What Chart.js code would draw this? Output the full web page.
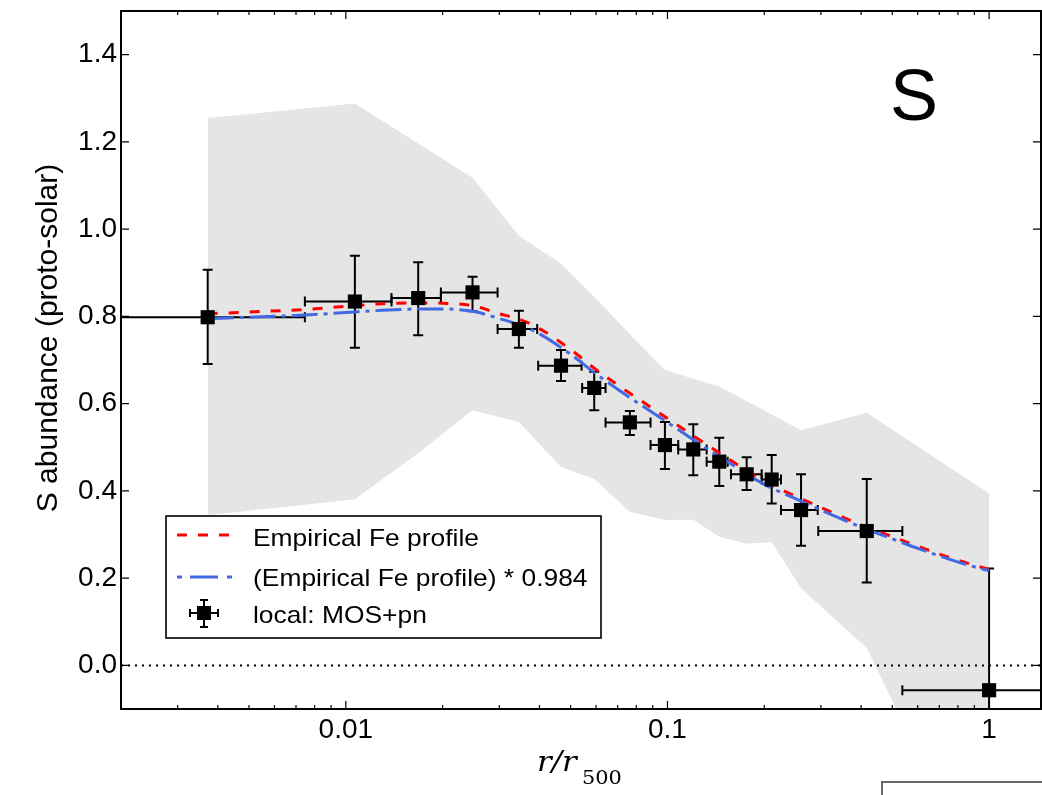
<!DOCTYPE html>
<html>
<head>
<meta charset="utf-8">
<script src="https://cdn.jsdelivr.net/npm/chart.js@4.4.0/dist/chart.umd.min.js"></script>
<style>
html,body{margin:0;padding:0;background:#fff;}
#wrap{width:1042px;height:795px;position:relative;}
</style>
</head>
<body>
<div id="wrap"><canvas id="abundChart"></canvas></div>
<script>
// measured points: local MOS+pn
const radius  = [0.00372, 0.01067, 0.01679, 0.02477, 0.03452, 0.04667, 0.0592, 0.0764, 0.0982, 0.1203, 0.1449, 0.1763, 0.2109, 0.2602, 0.4165, 1.0];
const radLo   = [0.001, 0.00746, 0.01387, 0.01975, 0.02964, 0.03963, 0.0543, 0.0642, 0.0886, 0.108, 0.1324, 0.1576, 0.1963, 0.2254, 0.2944, 0.5374];
const radHi   = [0.00746, 0.01387, 0.01975, 0.02964, 0.03935, 0.05408, 0.0642, 0.0886, 0.108, 0.1324, 0.1539, 0.1963, 0.2254, 0.2932, 0.5374, 2.0];
const sAbund  = [0.798, 0.834, 0.842, 0.855, 0.771, 0.687, 0.636, 0.557, 0.505, 0.495, 0.467, 0.438, 0.426, 0.356, 0.308, -0.057];
const sLo     = [0.691, 0.728, 0.757, 0.812, 0.728, 0.652, 0.585, 0.528, 0.450, 0.436, 0.411, 0.402, 0.371, 0.274, 0.190, -0.34];
const sHi     = [0.907, 0.939, 0.924, 0.891, 0.813, 0.723, 0.673, 0.583, 0.558, 0.553, 0.522, 0.477, 0.482, 0.438, 0.427, 0.222];

// grey scatter band (same radii as the points)
const bandUpper = [1.255, 1.288, 1.196, 1.118, 0.985, 0.921, 0.845, 0.759, 0.677, 0.657, 0.639, 0.606, 0.575, 0.539, 0.579, 0.394];
const bandLower = [0.344, 0.381, 0.486, 0.585, 0.558, 0.455, 0.427, 0.352, 0.333, 0.334, 0.295, 0.279, 0.283, 0.176, 0.040, -0.54];

// empirical Fe profile curves
const modelR  = [0.00372, 0.005, 0.0075, 0.01, 0.013, 0.017, 0.02, 0.025, 0.03, 0.035, 0.04, 0.05, 0.06, 0.07, 0.08, 0.1, 0.12, 0.15, 0.2, 0.25, 0.3, 0.4, 0.5, 0.6, 0.7, 0.85, 1.0];
const feEmp   = [0.806, 0.810, 0.816, 0.823, 0.829, 0.831, 0.830, 0.824, 0.806, 0.792, 0.772, 0.724, 0.678, 0.643, 0.614, 0.566, 0.527, 0.480, 0.422, 0.388, 0.362, 0.322, 0.295, 0.273, 0.255, 0.235, 0.220];
const feScaled= [0.795, 0.798, 0.803, 0.809, 0.814, 0.817, 0.817, 0.811, 0.795, 0.779, 0.760, 0.713, 0.668, 0.633, 0.604, 0.557, 0.518, 0.472, 0.415, 0.382, 0.356, 0.317, 0.290, 0.268, 0.251, 0.231, 0.217];

const xTickValues = [0.01, 0.1, 1];
const xTickLabels = ['0.01', '0.1', '1'];
const yTickValues = [0, 0.2, 0.4, 0.6, 0.8, 1.0, 1.2, 1.4];
const yTickLabels = ['0.0', '0.2', '0.4', '0.6', '0.8', '1.0', '1.2', '1.4'];
const legendLabels = ['Empirical Fe profile', '(Empirical Fe profile) * 0.984', 'local: MOS+pn'];

const X_MIN = 0.002, X_MAX = 1.45, Y_MIN = -0.1, Y_MAX = 1.5;
const RED = '#ff0000', BLUE = '#4169e1', BAND = '#e5e5e5';
const RED_DASH = [10, 11], BLUE_DASH = [26, 6, 4, 6];
const SX = 1.1; // the original figure text is a bit wide
const SANS = '"Liberation Sans", Arial, sans-serif';

const pts = (xs, ys) => xs.map((x, i) => ({x: x, y: ys[i]}));

function wideText(ctx, txt, x, y, font, align){
  ctx.save();
  ctx.font = font;
  ctx.textAlign = align || 'left';
  ctx.textBaseline = 'alphabetic';
  ctx.fillStyle = '#000';
  ctx.translate(x, y);
  ctx.scale(SX, 1);
  ctx.fillText(txt, 0, 0);
  ctx.restore();
}

function errCross(ctx, px, py, pxl, pxh, pyl, pyh, cap){
  ctx.beginPath();
  ctx.moveTo(px, pyl); ctx.lineTo(px, pyh);
  ctx.moveTo(px - cap, pyl); ctx.lineTo(px + cap, pyl);
  ctx.moveTo(px - cap, pyh); ctx.lineTo(px + cap, pyh);
  ctx.moveTo(pxl, py); ctx.lineTo(pxh, py);
  ctx.moveTo(pxl, py - cap); ctx.lineTo(pxl, py + cap);
  ctx.moveTo(pxh, py - cap); ctx.lineTo(pxh, py + cap);
  ctx.stroke();
}

const RED_INDEX = 3;

const errorBarPlugin = {
  id: 'errorBars',
  beforeDatasetDraw(chart, args){
    if (args.index !== RED_INDEX) return;
    const {ctx, chartArea: ca} = chart;
    const xs = chart.scales.x, ys = chart.scales.y;
    ctx.save();
    ctx.beginPath();
    ctx.rect(ca.left, ca.top, ca.right - ca.left, ca.bottom - ca.top);
    ctx.clip();
    ctx.strokeStyle = '#000';
    ctx.lineWidth = 2;
    radius.forEach((r, i) => {
      errCross(ctx,
        xs.getPixelForValue(r), ys.getPixelForValue(sAbund[i]),
        xs.getPixelForValue(radLo[i]), xs.getPixelForValue(radHi[i]),
        ys.getPixelForValue(sLo[i]), ys.getPixelForValue(sHi[i]), 5);
    });
    ctx.restore();
  }
};

const decorPlugin = {
  id: 'decor',
  afterDatasetsDraw(chart){
    const ctx = chart.ctx;
    // legend box
    ctx.save();
    ctx.fillStyle = '#fff';
    ctx.fillRect(166, 516, 435, 122);
    ctx.strokeStyle = '#000';
    ctx.lineWidth = 1.6;
    ctx.strokeRect(166, 516, 435, 122);
    ctx.lineWidth = 3;
    ctx.strokeStyle = RED;
    ctx.setLineDash(RED_DASH);
    ctx.beginPath(); ctx.moveTo(177, 535); ctx.lineTo(232, 535); ctx.stroke();
    ctx.strokeStyle = BLUE;
    ctx.setLineDash([5, 8, 28, 9, 5, 100]);
    ctx.beginPath(); ctx.moveTo(177, 577); ctx.lineTo(232, 577); ctx.stroke();
    ctx.setLineDash([]);
    ctx.strokeStyle = '#000';
    ctx.lineWidth = 2;
    errCross(ctx, 204, 613, 190, 218, 600, 627, 4);
    ctx.fillStyle = '#000';
    ctx.fillRect(197, 606, 14, 14);
    ctx.restore();
    wideText(ctx, legendLabels[0], 253, 546, '24px ' + SANS);
    wideText(ctx, legendLabels[1], 253, 586, '24px ' + SANS);
    wideText(ctx, legendLabels[2], 253, 623, '24px ' + SANS);

    // panel label
    ctx.save();
    ctx.font = '72px ' + SANS;
    ctx.fillStyle = '#000';
    ctx.textAlign = 'center';
    ctx.fillText('S', 914, 120);
    ctx.restore();
  },
  afterDraw(chart){
    const {ctx, chartArea: ca} = chart;
    const xs = chart.scales.x, ys = chart.scales.y;
    ctx.save();
    ctx.strokeStyle = '#000';
    ctx.lineWidth = 1.2;
    ctx.beginPath();
    // x ticks, bottom and top, pointing inward
    for (let d = 0.001; d < 10; d *= 10) {
      for (let k = 1; k <= 9; k++) {
        const v = k * d;
        if (v < X_MIN || v > X_MAX) continue;
        const px = xs.getPixelForValue(v);
        const len = (k === 1) ? 8 : 4;
        ctx.moveTo(px, ca.bottom); ctx.lineTo(px, ca.bottom - len);
        ctx.moveTo(px, ca.top); ctx.lineTo(px, ca.top + len);
      }
    }
    yTickValues.forEach(v => {
      const py = ys.getPixelForValue(v);
      ctx.moveTo(ca.left, py); ctx.lineTo(ca.left + 8, py);
      ctx.moveTo(ca.right, py); ctx.lineTo(ca.right - 8, py);
    });
    ctx.stroke();
    ctx.lineWidth = 2;
    ctx.strokeRect(ca.left, ca.top, ca.right - ca.left, ca.bottom - ca.top);

    // box of the neighbouring panel, cut by the crop
    ctx.strokeStyle = '#666';
    ctx.lineWidth = 2;
    ctx.strokeRect(882, 782, 200, 60);
    ctx.restore();

    // axis titles
    ctx.save();
    ctx.fillStyle = '#000';
    ctx.translate(49, 338);
    ctx.rotate(-Math.PI / 2);
    ctx.font = '30px ' + SANS;
    ctx.textAlign = 'center';
    ctx.textBaseline = 'middle';
    ctx.fillText('S abundance (proto-solar)', 0, 0);
    ctx.restore();
    wideText(ctx, 'r/r', 537, 771, 'italic 28px "DejaVu Serif", serif');
    wideText(ctx, '500', 582, 784, '19px "DejaVu Serif", serif');
  }
};

Chart.defaults.font.family = SANS;
Chart.defaults.color = '#000';

new Chart(document.getElementById('abundChart'), {
  type: 'scatter',
  data: {
    datasets: [
      { // 0: points
        label: legendLabels[2],
        data: pts(radius, sAbund),
        pointStyle: 'rect', pointRadius: 10, pointBackgroundColor: '#000',
        pointBorderWidth: 0, showLine: false, order: 0
      },
      { // 1: band upper edge
        data: pts(radius, bandUpper),
        showLine: true, borderWidth: 0, pointRadius: 0, fill: false, order: 10
      },
      { // 2: band lower edge, filled up to the upper edge
        data: pts(radius, bandLower),
        showLine: true, borderWidth: 0, pointRadius: 0,
        fill: '-1', backgroundColor: BAND, order: 9
      },
      { // 3: empirical Fe profile
        label: legendLabels[0],
        data: pts(modelR, feEmp),
        showLine: true, borderColor: RED, borderWidth: 3, borderDash: RED_DASH,
        pointRadius: 0, cubicInterpolationMode: 'monotone', order: 2
      },
      { // 4: scaled profile
        label: legendLabels[1],
        data: pts(modelR, feScaled),
        showLine: true, borderColor: BLUE, borderWidth: 3, borderDash: BLUE_DASH,
        pointRadius: 0, cubicInterpolationMode: 'monotone', order: 1
      },
      { // 5: zero line
        data: pts([X_MIN, X_MAX], [0, 0]),
        showLine: true, borderColor: '#000', borderWidth: 2, borderDash: [2, 5],
        pointRadius: 0, order: 5
      }
    ]
  },
  options: {
    responsive: true,
    maintainAspectRatio: false,
    animation: false,
    layout: { autoPadding: false, padding: { left: 0, right: 1, top: 11, bottom: 0 } },
    plugins: { legend: { display: false }, tooltip: { enabled: false } },
    scales: {
      x: {
        type: 'logarithmic', min: X_MIN, max: X_MAX,
        grid: { display: false, drawTicks: false },
        border: { display: false },
        afterBuildTicks: s => { s.ticks = xTickValues.map(v => ({ value: v })); },
        afterFit: s => { s.height = 86; s.paddingLeft = 0; s.paddingRight = 0; },
        ticks: {
          autoSkip: false, maxRotation: 0, padding: 4,
          font: { size: 28 },
          callback: (v, i) => xTickLabels[i]
        }
      },
      y: {
        min: Y_MIN, max: Y_MAX,
        grid: { display: false, drawTicks: false },
        border: { display: false },
        afterBuildTicks: s => { s.ticks = yTickValues.map(v => ({ value: v })); },
        afterFit: s => { s.width = 121; s.paddingTop = 0; s.paddingBottom = 0; },
        ticks: {
          padding: 4,
          font: { size: 28 },
          callback: (v, i) => yTickLabels[i]
        }
      }
    }
  },
  plugins: [errorBarPlugin, decorPlugin]
});
</script>
</body>
</html>
